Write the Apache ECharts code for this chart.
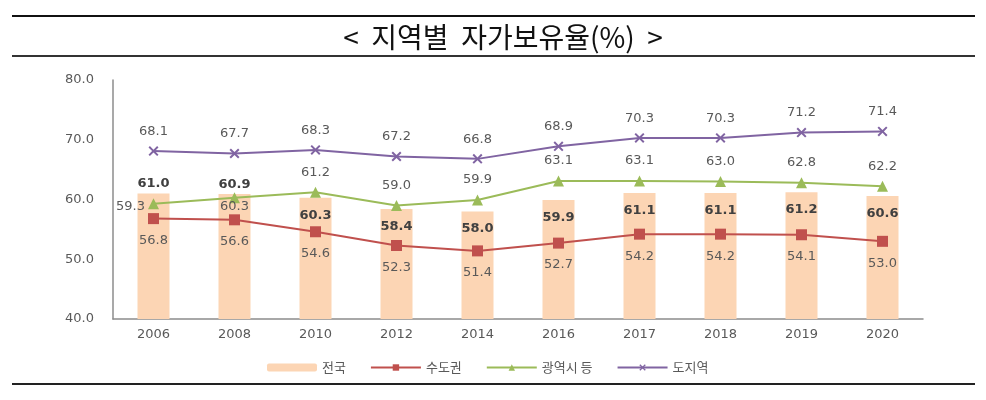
<!DOCTYPE html>
<html>
<head>
<meta charset="utf-8">
<script src="https://cdn.jsdelivr.net/npm/echarts@6/dist/echarts.min.js"></script>
<style>
html,body{margin:0;padding:0;background:#fff;}
#chart{width:986px;height:400px;}
</style>
</head>
<body>
<div id="chart"></div>
<script>
const categories = ['2006','2008','2010','2012','2014','2016','2017','2018','2019','2020'];
const nationwide = [61.0, 60.9, 60.3, 58.4, 58.0, 59.9, 61.1, 61.1, 61.2, 60.6];
const capitalArea = [56.8, 56.6, 54.6, 52.3, 51.4, 52.7, 54.2, 54.2, 54.1, 53.0];
const metroCities = [59.3, 60.3, 61.2, 59.0, 59.9, 63.1, 63.1, 63.0, 62.8, 62.2];
const provinces = [68.1, 67.7, 68.3, 67.2, 66.8, 68.9, 70.3, 70.3, 71.2, 71.4];
const seriesNames = ['전국', '수도권', '광역시 등', '도지역'];
const titleText = '<  지역별  자가보유율(%)  >';

const FONT = 'DejaVu Sans';
const labelGrey = '#595959';
const fmt = p => Number(p.value).toFixed(1);

const barData = nationwide.map((v, i) => {
  if (i < 2) {
    return { value: v, label: { position: 'top', distance: 3 } };
  }
  return v;
});
const greenData = metroCities.map((v, i) => {
  if (i === 0) return { value: v, label: { position: 'left', distance: 3, offset: [0, 3] } };
  if (i === 1) return { value: v, label: { position: 'bottom', distance: -3 } };
  return v;
});

const xPath = 'path://M0,1.4L1.4,0L5,3.6L8.6,0L10,1.4L6.4,5L10,8.6L8.6,10L5,6.4L1.4,10L0,8.6L3.6,5Z';

const chart = echarts.init(document.getElementById('chart'), null, { renderer: 'canvas' });
chart.setOption({
  animation: false,
  backgroundColor: '#fff',
  graphic: [
    { type: 'rect', shape: { x: 12, y: 15, width: 963, height: 2 }, style: { fill: '#111' } },
    { type: 'rect', shape: { x: 12, y: 55, width: 963, height: 2 }, style: { fill: '#333' } },
    { type: 'rect', shape: { x: 12, y: 383, width: 963, height: 2 }, style: { fill: '#222' } },
    { type: 'text', x: 503, y: 37, style: { text: titleText, font: '28px "Noto Sans CJK KR"', fill: '#111', align: 'center', verticalAlign: 'middle' } }
  ],
  grid: { left: 113, right: 63, top: 80, bottom: 81, containLabel: false },
  legend: {
    top: 356,
    left: 262,
    itemWidth: 50,
    itemHeight: 8,
    itemGap: 24,
    textStyle: { fontFamily: 'Noto Sans CJK KR', fontSize: 13, color: labelGrey },
    data: seriesNames
  },
  xAxis: {
    type: 'category',
    data: categories,
    axisLine: { lineStyle: { color: '#8c8c8c', width: 1.5 } },
    axisTick: { show: false },
    axisLabel: { fontFamily: FONT, fontSize: 13, color: labelGrey, margin: 9 }
  },
  yAxis: {
    type: 'value',
    min: 40, max: 80, interval: 10,
    axisLine: { show: true, lineStyle: { color: '#8c8c8c', width: 1.5 } },
    axisTick: { show: false },
    splitLine: { show: false },
    axisLabel: { fontFamily: FONT, fontSize: 13, color: labelGrey, margin: 19, formatter: v => v.toFixed(1) }
  },
  series: [
    {
      name: seriesNames[0], type: 'bar', data: barData, barWidth: 32,
      itemStyle: { color: '#FCD5B4' },
      label: { show: true, position: 'insideTop', distance: 11, formatter: fmt, fontFamily: FONT, fontSize: 13, fontWeight: 'bold', color: '#404040' },
      z: 1
    },
    {
      name: seriesNames[1], type: 'line', data: capitalArea,
      symbol: 'rect', symbolSize: 11,
      lineStyle: { color: '#C0504D', width: 2 },
      itemStyle: { color: '#C0504D' },
      label: { show: true, position: 'bottom', distance: 10, formatter: fmt, fontFamily: FONT, fontSize: 13, color: labelGrey },
      z: 3
    },
    {
      name: seriesNames[2], type: 'line', data: greenData,
      symbol: 'triangle', symbolSize: 11,
      lineStyle: { color: '#9BBB59', width: 2 },
      itemStyle: { color: '#9BBB59' },
      label: { show: true, position: 'top', distance: 8, formatter: fmt, fontFamily: FONT, fontSize: 13, color: labelGrey },
      z: 3
    },
    {
      name: seriesNames[3], type: 'line', data: provinces,
      symbol: xPath, symbolSize: 10,
      lineStyle: { color: '#8064A2', width: 2 },
      itemStyle: { color: '#8064A2' },
      label: { show: true, position: 'top', distance: 8, formatter: fmt, fontFamily: FONT, fontSize: 13, color: labelGrey },
      z: 3
    }
  ]
});
</script>
</body>
</html>
